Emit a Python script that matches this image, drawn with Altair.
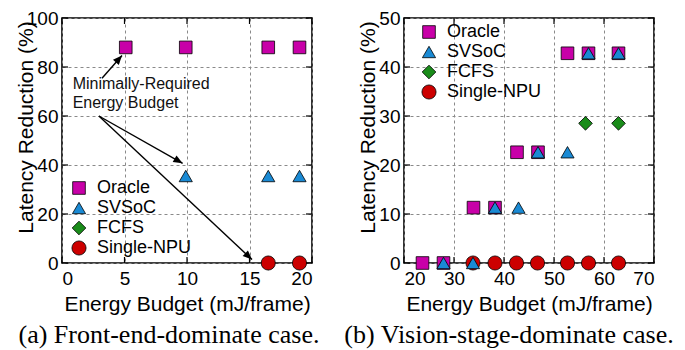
import math
import altair as alt
import pandas as pd

# ---------------- data ----------------
SERIES = ["Oracle", "SVSoC", "FCFS", "Single-NPU"]
COLORS = ["#C800A8", "#1A8AD4", "#1A8C1A", "#CC0000"]
SHAPES = ["square", "triangle-up", "diamond", "circle"]
SIZES = [160, 200, 280, 130]
DRAW_ORDER = ["Oracle", "FCFS", "Single-NPU", "SVSoC"]

# (a) Front-end-dominate case
A_ORACLE_X = [5.1, 9.9, 16.5, 19.0]
A_ORACLE_Y = [88, 88, 88, 88]
A_SVSOC_X = [9.9, 16.5, 19.0]
A_SVSOC_Y = [35.5, 35.5, 35.5]
A_FCFS_X = [16.5, 19.0]
A_FCFS_Y = [0, 0]
A_NPU_X = [16.5, 19.0]
A_NPU_Y = [0, 0]
A_XDOM = [0, 20]
A_XTICKS = [0, 5, 10, 15, 20]
A_YDOM = [0, 100]
A_YTICKS = [0, 20, 40, 60, 80, 100]

# (b) Vision-stage-dominate case
B_ORACLE_X = [23.7, 27.9, 33.9, 38.2, 42.6, 46.8, 52.7, 56.9, 62.9]
B_ORACLE_Y = [0, 0, 11.3, 11.3, 22.6, 22.6, 42.8, 42.8, 42.8]
B_SVSOC_X = [27.9, 33.8, 38.2, 42.9, 46.8, 52.7, 56.9, 62.9]
B_SVSOC_Y = [0, 0, 11.3, 11.3, 22.6, 22.6, 42.8, 42.8]
B_FCFS_X = [56.3, 62.9]
B_FCFS_Y = [28.5, 28.5]
B_NPU_X = [33.8, 38.2, 42.5, 46.7, 52.7, 56.9, 62.9]
B_NPU_Y = [0, 0, 0, 0, 0, 0, 0]
B_XDOM = [20, 70]
B_XTICKS = [20, 30, 40, 50, 60, 70]
B_YDOM = [0, 50]
B_YTICKS = [0, 10, 20, 30, 40, 50]

# annotation (panel a)
NOTE_TEXT = "Minimally-Required\nEnergy Budget"
NOTE_X = [0.85]
NOTE_Y = [73.0]
ARROW_X1 = [3.2, 2.95, 2.95]
ARROW_Y1 = [75.4, 60.0, 60.0]
ARROW_X2 = [4.8, 9.65, 15.2]
ARROW_Y2 = [84.7, 40.7, 1.4]

X_TITLE = "Energy Budget (mJ/frame)"
Y_TITLE = "Latency Reduction (%)"
CAPTION_A = "(a) Front-end-dominate case."
CAPTION_B = "(b) Vision-stage-dominate case."

W, H = 250, 245
SANS = "Liberation Sans"
SERIF = "Liberation Serif"
HEAD_PATH = "M0,0L-0.42,1L0.42,1Z"


def panel(series_xy, xdom, xticks, ydom, yticks, legend_pos, caption, cap_dx, note=False):
    rows = []
    for name in DRAW_ORDER:
        xs_, ys_ = series_xy[name]
        for x, y in zip(xs_, ys_):
            rows.append({"x": x, "y": y, "s": name})
    df = pd.DataFrame(rows)
    xsc = alt.Scale(domain=xdom, nice=False, zero=False)
    ysc = alt.Scale(domain=ydom, nice=False, zero=False)
    leg = alt.Legend(title=None, orient="none", legendX=legend_pos[0],
                     legendY=legend_pos[1], labelFontSize=18, labelFont=SANS,
                     symbolSize=150, symbolStrokeColor="black",
                     symbolStrokeWidth=0.8, rowPadding=2, labelOffset=9,
                     padding=0, labelColor="black")
    pts = alt.Chart(df).mark_point(filled=True, stroke="black", strokeWidth=0.8,
                                   opacity=1).encode(
        x=alt.X("x:Q", scale=xsc, axis=alt.Axis(values=xticks, title=X_TITLE,
                                                 labelPadding=6)),
        y=alt.Y("y:Q", scale=ysc, axis=alt.Axis(values=yticks, title=Y_TITLE,
                                                 titleX=-36, titleY=109,
                                                 titleBaseline="middle",
                                                 titleAlign="center")),
        color=alt.Color("s:N", scale=alt.Scale(domain=SERIES, range=COLORS), legend=leg),
        shape=alt.Shape("s:N", scale=alt.Scale(domain=SERIES, range=SHAPES), legend=leg),
        size=alt.Size("s:N", scale=alt.Scale(domain=SERIES, range=SIZES), legend=None),
    )

    xt = pd.DataFrame({"x": xticks})
    yt = pd.DataFrame({"y": yticks})
    tick_style = dict(color="black", strokeWidth=1.2)
    tb = alt.Chart(xt).mark_rule(**tick_style).encode(
        x=alt.X("x:Q", scale=xsc), y=alt.value(H), y2=alt.value(H - 6))
    tt = alt.Chart(xt).mark_rule(**tick_style).encode(
        x=alt.X("x:Q", scale=xsc), y=alt.value(0), y2=alt.value(6))
    tl = alt.Chart(yt).mark_rule(**tick_style).encode(
        y=alt.Y("y:Q", scale=ysc), x=alt.value(0), x2=alt.value(6))
    tr = alt.Chart(yt).mark_rule(**tick_style).encode(
        y=alt.Y("y:Q", scale=ysc), x=alt.value(W), x2=alt.value(W - 6))

    layers = [tb, tt, tl, tr]

    if note:
        kx = W / (xdom[1] - xdom[0])
        ky = H / (ydom[1] - ydom[0])
        ar = pd.DataFrame({"x": ARROW_X1, "y": ARROW_Y1, "x2": ARROW_X2, "y2": ARROW_Y2})
        ar["a"] = [
            (math.degrees(math.atan2((x2 - x1) * kx, (y2 - y1) * ky)) + 360) % 360
            for x1, y1, x2, y2 in zip(ARROW_X1, ARROW_Y1, ARROW_X2, ARROW_Y2)
        ]
        lines = alt.Chart(ar).mark_rule(color="black", strokeWidth=1.4).encode(
            x=alt.X("x:Q", scale=xsc), y=alt.Y("y:Q", scale=ysc), x2="x2:Q", y2="y2:Q")
        heads = alt.Chart(ar).mark_point(shape=HEAD_PATH, filled=True, color="black",
                                         size=340, opacity=1).encode(
            x=alt.X("x2:Q", scale=xsc), y=alt.Y("y2:Q", scale=ysc),
            angle=alt.Angle("a:Q", scale=None))
        nt = pd.DataFrame({"x": NOTE_X, "y": NOTE_Y, "t": [NOTE_TEXT]})
        text = alt.Chart(nt).mark_text(align="left", baseline="middle", fontSize=16,
                                       font=SANS, lineHeight=19, lineBreak="\n",
                                       color="#111").encode(
            x=alt.X("x:Q", scale=xsc), y=alt.Y("y:Q", scale=ysc), text="t:N")
        layers += [lines, heads, text]

    layers.append(pts)
    return alt.layer(*layers).properties(
        width=W, height=H,
        title=alt.TitleParams(caption, orient="bottom", font=SERIF, fontSize=26,
                              fontWeight="normal", color="black", offset=8,
                              dx=cap_dx),
    )


pa = panel({"Oracle": (A_ORACLE_X, A_ORACLE_Y), "SVSoC": (A_SVSOC_X, A_SVSOC_Y),
            "FCFS": (A_FCFS_X, A_FCFS_Y), "Single-NPU": (A_NPU_X, A_NPU_Y)},
           A_XDOM, A_XTICKS, A_YDOM, A_YTICKS, (8, 161), CAPTION_A, -18, note=True)
pb = panel({"Oracle": (B_ORACLE_X, B_ORACLE_Y), "SVSoC": (B_SVSOC_X, B_SVSOC_Y),
            "FCFS": (B_FCFS_X, B_FCFS_Y), "Single-NPU": (B_NPU_X, B_NPU_Y)},
           B_XDOM, B_XTICKS, B_YDOM, B_YTICKS, (16, 5), CAPTION_B, -20)

chart = alt.hconcat(pa, pb, spacing=92, bounds="flush").resolve_scale(
    color="independent", shape="independent", size="independent",
    x="independent", y="independent",
).properties(
    padding={"left": 6, "top": 0, "right": 0, "bottom": 0},
    background="white",
).configure_view(
    stroke="black", strokeWidth=1.6,
).configure_axis(
    grid=True, gridColor="#8a8a8a", gridDash=[3, 3], gridWidth=1,
    domain=False, ticks=False,
    labelFont=SANS, labelFontSize=19, labelColor="black", labelPadding=4,
    titleFont=SANS, titleFontSize=21, titleFontWeight="normal", titleColor="black",
    titlePadding=5,
)

chart.save("out.html", embed_options={"renderer": "svg", "actions": False})
